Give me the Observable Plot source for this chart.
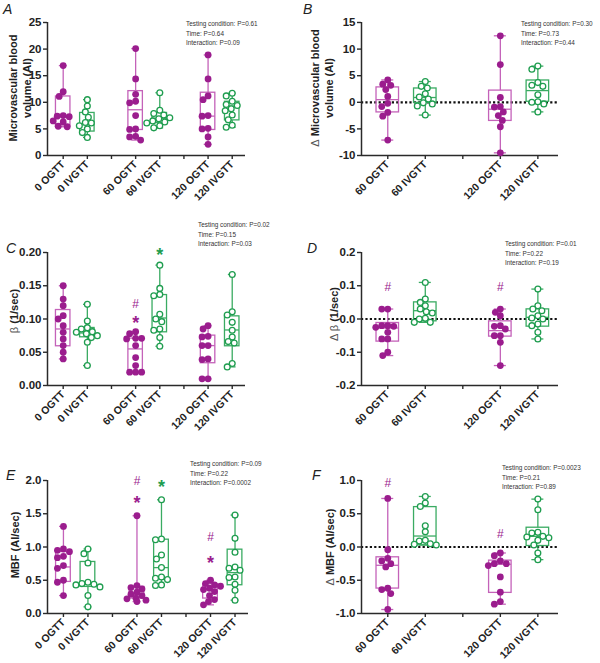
<!DOCTYPE html>
<html><head><meta charset="utf-8">
<script src="https://cdn.jsdelivr.net/npm/d3@7"></script>
<script src="https://cdn.jsdelivr.net/npm/@observablehq/plot@0.6"></script>
<style>
body{margin:0;background:#fff;}
#root{position:relative;width:600px;height:663px;background:#fff;font-family:"Liberation Sans",Arial,sans-serif;color:#222;overflow:hidden;}
.pnl{position:absolute;}
.letter{position:absolute;font-style:italic;font-size:14px;line-height:14px;}
.ann{position:absolute;font-size:6.4px;line-height:9.5px;color:#333;white-space:nowrap;}
.ylab{position:absolute;font-weight:bold;font-size:11px;line-height:14px;white-space:nowrap;text-align:center;transform:translate(-50%,-50%) rotate(-90deg);}
.thin{font-weight:normal;color:#555;}
</style></head>
<body><div id="root"></div>
<script>
// ---------- categories ----------
const slots6 = ["0 OGTT","0 IVGTT","","60 OGTT","60 IVGTT","","120 OGTT","120 IVGTT"];
const slots4 = ["60 OGTT","60 IVGTT","","120 OGTT","120 IVGTT"];
const groupSlots6 = [0,1,3,4,6,7];
const groupSlots4 = [0,1,3,4];
const groupCond6 = ["OGTT","IVGTT","OGTT","IVGTT","OGTT","IVGTT"];
const groupCond4 = ["OGTT","IVGTT","OGTT","IVGTT"];

// ---------- A: microvascular blood volume ----------
const mbv = [
  [16.9, 12.0, 11.1, 7.5, 7.4, 7.3, 6.5, 6.3, 5.5, 5.4],
  [10.5, 9.3, 8.2, 7.2, 6.2, 6.1, 5.6, 5.0, 4.3, 3.4],
  [20.1, 14.4, 11.5, 10.2, 9.9, 7.5, 5.0, 4.9, 3.6, 3.5, 2.9],
  [11.8, 8.5, 7.9, 7.6, 7.1, 6.9, 6.5, 6.3, 6.1, 5.6, 5.2],
  [18.9, 14.4, 11.2, 10.5, 7.5, 7.4, 5.1, 5.0, 3.5, 2.1],
  [11.7, 11.2, 10.2, 9.6, 9.4, 8.8, 8.4, 7.6, 6.7, 5.7, 5.3]
];
const mbvBox = [[5.4,7.3,11.1],[4.5,6.0,8.0],[4.8,8.6,12.1],[6.1,7.0,8.0],[4.8,7.4,11.8],[6.6,9.3,10.1]];
const mbvTicks = [0,5,10,15,20,25];

// ---------- B: delta microvascular blood volume ----------
const dmbv = [
  [4.2, 3.4, 3.2, 2.4, 1.1, -0.2, -0.8, -1.9, -2.6, -7.1],
  [3.9, 3.0, 2.7, 1.6, 1.0, 0.6, -0.1, -0.3, -0.7, -2.4],
  [12.5, 7.1, 0.9, -0.8, -0.9, -1.8, -2.5, -3.4, -4.6, -9.5],
  [6.8, 6.2, 3.7, 3.2, 3.0, 1.4, 0.1, 0.0, -0.3, -1.8]
];
const dmbvBox = [[-1.9,0.5,2.8],[-0.1,0.9,2.6],[-3.5,-1.3,2.2],[0.1,2.2,4.1]];
const dmbvTicks = [-10,-5,0,5,10,15];

// ---------- C: beta ----------
const beta = [
  [0.150, 0.130, 0.120, 0.105, 0.100, 0.090, 0.080, 0.070, 0.060, 0.050, 0.040],
  [0.122, 0.097, 0.087, 0.085, 0.081, 0.080, 0.078, 0.075, 0.072, 0.065, 0.030],
  [0.081, 0.078, 0.071, 0.071, 0.070, 0.060, 0.042, 0.030, 0.020, 0.020, 0.020],
  [0.181, 0.146, 0.137, 0.135, 0.107, 0.100, 0.096, 0.085, 0.083, 0.072, 0.059],
  [0.090, 0.085, 0.074, 0.073, 0.060, 0.060, 0.040, 0.039, 0.010, 0.010],
  [0.167, 0.111, 0.106, 0.095, 0.083, 0.073, 0.066, 0.064, 0.033, 0.028]
];
const betaBox = [[0.059,0.085,0.1135],[0.0725,0.079,0.0865],[0.020,0.055,0.0705],[0.080,0.1015,0.136],[0.0335,0.060,0.075],[0.059,0.0835,0.104]];
const betaTicks = [0,0.05,0.10,0.15,0.20];

// ---------- D: delta beta ----------
const dbeta = [
  [0.030, 0.030, -0.020, -0.020, -0.022, -0.025, -0.040, -0.060, -0.060, -0.100, -0.110],
  [0.110, 0.060, 0.050, 0.040, 0.030, 0.022, 0.018, 0.002, 0.000, -0.010, -0.010],
  [0.030, 0.020, 0.010, -0.020, -0.022, -0.030, -0.050, -0.050, -0.070, -0.140],
  [0.090, 0.040, 0.030, 0.025, 0.010, 0.003, 0.000, -0.015, -0.020, -0.040, -0.060]
];
const dbetaBox = [[-0.068,-0.027,-0.012],[-0.007,0.025,0.050],[-0.053,-0.035,-0.007],[-0.023,0.005,0.029]];
const dbetaTicks = [-0.2,-0.1,0,0.1,0.2];

// ---------- E: MBF ----------
const mbf = [
  [1.31, 0.97, 0.95, 0.93, 0.86, 0.84, 0.72, 0.68, 0.50, 0.47, 0.27],
  [0.97, 0.90, 0.76, 0.47, 0.45, 0.44, 0.43, 0.40, 0.27, 0.10],
  [1.47, 0.42, 0.39, 0.37, 0.32, 0.29, 0.27, 0.23, 0.22, 0.20, 0.18],
  [1.71, 1.12, 1.11, 0.88, 0.82, 0.69, 0.55, 0.53, 0.51, 0.43, 0.42],
  [0.50, 0.45, 0.43, 0.41, 0.38, 0.36, 0.33, 0.27, 0.21, 0.18, 0.13],
  [1.48, 1.13, 0.92, 0.70, 0.68, 0.65, 0.55, 0.54, 0.44, 0.35, 0.20]
];
const mbfBox = [[0.475,0.70,0.925],[0.40,0.44,0.775],[0.225,0.29,0.40],[0.525,0.69,1.11],[0.225,0.36,0.44],[0.425,0.615,0.96]];
const mbfTicks = [0,0.5,1.0,1.5,2.0];

// ---------- F: delta MBF ----------
const dmbf = [
  [0.73, -0.04, -0.17, -0.21, -0.25, -0.30, -0.62, -0.64, -0.70, -0.94],
  [0.76, 0.66, 0.61, 0.32, 0.23, 0.10, 0.09, 0.05, 0.04, 0.03],
  [-0.09, -0.13, -0.21, -0.25, -0.25, -0.28, -0.45, -0.68, -0.82, -0.86],
  [0.72, 0.56, 0.22, 0.21, 0.16, 0.15, 0.14, 0.10, 0.03, -0.09, -0.19]
];
const dmbfBox = [[-0.625,-0.275,-0.155],[0.025,0.165,0.60],[-0.69,-0.26,-0.205],[0.015,0.16,0.29]];
const dmbfTicks = [-1.0,-0.5,0,0.5,1.0];

// ---------- statistics text ----------
const annA = ["Testing condition: P=0.61","Time: P=0.64","Interaction: P=0.09"];
const annB = ["Testing condition: P=0.30","Time: P=0.73","Interaction: P=0.44"];
const annC = ["Testing condition: P=0.02","Time: P=0.15","Interaction: P=0.03"];
const annD = ["Testing condition: P=0.01","Time: P=0.22","Interaction: P=0.19"];
const annE = ["Testing condition: P=0.09","Time: P=0.22","Interaction: P=0.0002"];
const annF = ["Testing condition: P=0.0023","Time: P=0.21","Interaction: P=0.89"];

// ---------- significance symbols (slot, symbol, value level, condition) ----------
const sigC = [{i:3,s:"#",y:0.123,c:"OGTT"},{i:3,s:"*",y:0.101,c:"OGTT"},{i:4,s:"*",y:0.203,c:"IVGTT"}];
const sigD = [{i:0,s:"#",y:0.095,c:"OGTT"},{i:3,s:"#",y:0.095,c:"OGTT"}];
const sigE = [{i:3,s:"#",y:1.985,c:"OGTT"},{i:3,s:"*",y:1.73,c:"OGTT"},{i:4,s:"*",y:1.97,c:"IVGTT"},{i:6,s:"#",y:1.143,c:"OGTT"},{i:6,s:"*",y:0.827,c:"OGTT"}];
const sigF = [{i:0,s:"#",y:0.955,c:"OGTT"},{i:3,s:"#",y:0.188,c:"OGTT"}];

// ---------- styles ----------
const COL = {OGTT:"#9b1d8e", IVGTT:"#1f9d4f"};
const COL_L = {OGTT:"#c462b9", IVGTT:"#3aab62"};
const AX = "#2a2a2a";
const R = 3.4;

const fmt0 = d => String(d);
const fmt1 = d => d.toFixed(1);
const fmt2 = d => d.toFixed(2);

const panels = [
  {letter:"A", left:0, top:0, h:200, mt:22, mb:45, ml:47, mr:55, slots:slots6, gs:groupSlots6, gc:groupCond6, xDom:[-0.65,7.55], yDom:[0,25], ticks:mbvTicks, fmt:fmt0, data:mbv, box:mbvBox, sig:[], zero:false,
   ann:annA, annX:186, annY:19, letX:3, letY:2, ylab:"Microvascular blood<br>volume (AI)", ylx:20, yly:88},
  {letter:"B", left:300, top:0, h:200, mt:22, mb:45, ml:61, mr:42, slots:slots4, gs:groupSlots4, gc:groupCond4, xDom:[-0.7,4.55], yDom:[-10,15], ticks:dmbvTicks, fmt:fmt0, data:dmbv, box:dmbvBox, sig:[], zero:true,
   ann:annB, annX:521, annY:19, letX:303, letY:2, ylab:"<span class='thin'>&#916;</span> Microvascular blood<br>volume (AI)", ylx:322, yly:88},
  {letter:"C", left:0, top:200, h:230, mt:52, mb:45, ml:47, mr:55, slots:slots6, gs:groupSlots6, gc:groupCond6, xDom:[-0.65,7.55], yDom:[0,0.2], ticks:betaTicks, fmt:fmt2, data:beta, box:betaBox, sig:sigC, zero:false,
   ann:annC, annX:198, annY:220, letX:6, letY:241, ylab:"<span class='thin'>&#946;</span> (1/sec)", ylx:14, yly:311},
  {letter:"D", left:300, top:200, h:230, mt:52, mb:45, ml:61, mr:42, slots:slots4, gs:groupSlots4, gc:groupCond4, xDom:[-0.7,4.55], yDom:[-0.2,0.2], ticks:dbetaTicks, fmt:fmt1, data:dbeta, box:dbetaBox, sig:sigD, zero:true,
   ann:annD, annX:505, annY:239, letX:307, letY:241, ylab:"<span class='thin'>&#916; &#946;</span> (1/sec)", ylx:334, yly:314},
  {letter:"E", left:0, top:430, h:233, mt:50, mb:50, ml:47, mr:52, slots:slots6, gs:groupSlots6, gc:groupCond6, xDom:[-0.65,7.55], yDom:[0,2], ticks:mbfTicks, fmt:fmt1, data:mbf, box:mbfBox, sig:sigE, zero:false,
   ann:annE, annX:190, annY:459, letX:6, letY:468, ylab:"MBF (AI/sec)", ylx:15, yly:545},
  {letter:"F", left:300, top:430, h:233, mt:50, mb:50, ml:61, mr:42, slots:slots4, gs:groupSlots4, gc:groupCond4, xDom:[-0.7,4.55], yDom:[-1,1], ticks:dmbfTicks, fmt:fmt1, data:dmbf, box:dmbfBox, sig:sigF, zero:true,
   ann:annF, annX:502, annY:463, letX:312, letY:468, ylab:"<span class='thin'>&#916;</span> MBF (AI/sec)", ylx:330, yly:547}
];

function dodge(values, yPx, r) {
  const placed = [], offs = [];
  const cands = [0];
  for (let k = 1; k <= 14; k++) cands.push(-k, k);
  for (const v of values) {
    const py = yPx(v);
    let best = 0;
    for (const c of cands) {
      if (placed.every(p => Math.hypot(p.x - c, p.y - py) >= 2 * r * 0.88)) { best = c; break; }
    }
    placed.push({x: best, y: py});
    offs.push(best);
  }
  return offs;
}

const root = document.getElementById("root");

for (const P of panels) {
  const W = 300;
  const yPx = d3.scaleLinear(P.yDom, [P.h - P.mb, P.mt]);
  const step = (W - P.ml - P.mr) / (P.xDom[1] - P.xDom[0]);
  const pts = [], boxes = [];
  P.data.forEach((vals, g) => {
    const i = P.gs[g], c = P.gc[g];
    const offs = dodge(vals, yPx, R);
    vals.forEach((v, k) => pts.push({x: i + offs[k] / step, y: v, c}));
    const [q1, med, q3] = P.box[g];
    boxes.push({i, c, q1, med, q3, min: d3.min(vals), max: d3.max(vals)});
  });
  const bw = 0.3, cw = 0.16;
  const marks = [
    Plot.axisY({ticks: P.ticks, tickFormat: P.fmt, tickSize: 4, tickPadding: 2, fontSize: 11.5, fontWeight: "bold", label: null, stroke: AX, strokeWidth: 1.4}),
    Plot.axisX({ticks: d3.range(P.slots.length), tickFormat: i => P.slots[i], tickRotate: -45, tickSize: 4, tickPadding: 3, fontSize: 10.5, fontWeight: "bold", label: null, stroke: AX, strokeWidth: 1.4}),
    P.zero ? Plot.ruleY([0], {stroke: "#111", strokeWidth: 2.2, strokeDasharray: "2.2,2.2"}) : null,
    Plot.ruleX([P.xDom[0]], {stroke: AX, strokeWidth: 1.5}),
    Plot.ruleY([P.yDom[0]], {stroke: AX, strokeWidth: 1.5}),
    Plot.ruleX(boxes, {x: "i", y1: "q3", y2: "max", stroke: d => COL_L[d.c], strokeWidth: 1.3}),
    Plot.ruleX(boxes, {x: "i", y1: "min", y2: "q1", stroke: d => COL_L[d.c], strokeWidth: 1.3}),
    Plot.rect(boxes, {x1: d => d.i - bw, x2: d => d.i + bw, y1: "q1", y2: "q3", fill: "none", stroke: d => COL_L[d.c], strokeWidth: 1.3}),
    Plot.ruleY(boxes, {y: "med", x1: d => d.i - bw, x2: d => d.i + bw, stroke: d => COL_L[d.c], strokeWidth: 1.3}),
    Plot.ruleY(boxes, {y: "max", x1: d => d.i - cw, x2: d => d.i + cw, stroke: d => COL_L[d.c], strokeWidth: 1.3}),
    Plot.ruleY(boxes, {y: "min", x1: d => d.i - cw, x2: d => d.i + cw, stroke: d => COL_L[d.c], strokeWidth: 1.3}),
    Plot.dot(pts.filter(d => d.c === "OGTT"), {x: "x", y: "y", r: R, fill: COL.OGTT, stroke: "none"}),
    Plot.dot(pts.filter(d => d.c === "IVGTT"), {x: "x", y: "y", r: R - 0.5, fill: "white", stroke: COL.IVGTT, strokeWidth: 1.3}),
    Plot.text(P.sig.filter(d => d.s === "#"), {x: "i", y: "y", text: "s", fill: d => COL[d.c], fontSize: 12, lineAnchor: "middle"}),
    Plot.text(P.sig.filter(d => d.s === "*"), {x: "i", y: "y", text: "s", fill: d => COL[d.c], fontSize: 18, fontWeight: "bold", lineAnchor: "middle", dy: 5})
  ].filter(Boolean);
  const svg = Plot.plot({
    width: W, height: P.h, marginLeft: P.ml, marginRight: P.mr, marginTop: P.mt, marginBottom: P.mb,
    style: {fontFamily: "'Liberation Sans', Arial, sans-serif", background: "transparent", overflow: "visible", color: "#222"},
    x: {type: "linear", domain: P.xDom},
    y: {type: "linear", domain: P.yDom},
    marks
  });
  const wrap = document.createElement("div");
  wrap.className = "pnl";
  wrap.style.left = P.left + "px"; wrap.style.top = P.top + "px";
  wrap.appendChild(svg);
  root.appendChild(wrap);

  const L = document.createElement("div");
  L.className = "letter"; L.textContent = P.letter;
  L.style.left = P.letX + "px"; L.style.top = P.letY + "px";
  root.appendChild(L);

  const A = document.createElement("div");
  A.className = "ann"; A.innerHTML = P.ann.join("<br>");
  A.style.left = P.annX + "px"; A.style.top = P.annY + "px";
  root.appendChild(A);

  const Y = document.createElement("div");
  Y.className = "ylab"; Y.innerHTML = P.ylab;
  Y.style.left = P.ylx + "px"; Y.style.top = P.yly + "px";
  root.appendChild(Y);
}
</script></body></html>
